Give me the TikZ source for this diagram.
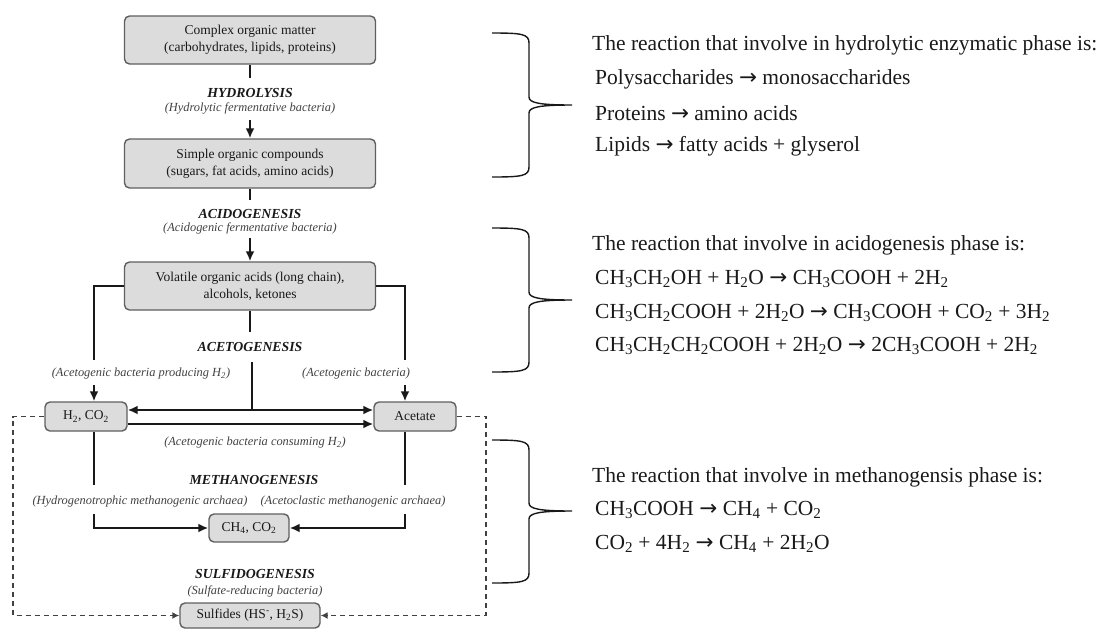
\documentclass[tikz,border=0pt]{standalone}
\usepackage{fontspec}
\setmainfont{Liberation Serif}
\newfontfamily\arrowfont{DejaVu Sans}
\usetikzlibrary{arrows.meta,positioning}

\definecolor{boxfill}{RGB}{220,220,220}
\definecolor{boxline}{RGB}{95,95,95}
\definecolor{ink}{RGB}{25,25,25}
\definecolor{labelgray}{RGB}{65,65,65}
\definecolor{dashgray}{RGB}{65,65,65}

\newcommand{\ra}{{\arrowfont\char"2192}}
\newcommand{\chsub}[1]{\textsubscript{#1}}

\begin{document}
\begin{tikzpicture}[x=1pt,y=-1pt,>={Latex[length=10pt,width=9pt]}]
    % Styles
    \tikzstyle{stage}=[draw=boxline,fill=boxfill,rounded corners=5pt,line width=1.4pt,text=ink,
                       font=\fontsize{13.5}{17}\selectfont,align=center,inner sep=2pt]
    \tikzstyle{phase}=[text=ink,font=\fontsize{13.8}{16}\selectfont\bfseries\itshape,inner sep=1pt]
    \tikzstyle{microbe}=[text=labelgray,font=\fontsize{12.4}{15}\selectfont\itshape,inner sep=1pt]
    \tikzstyle{flow}=[draw=ink,line width=2.9pt]
    \tikzstyle{sulfo}=[draw=dashgray,line width=1.8pt,dash pattern=on 5pt off 4pt,
                       >={Latex[length=7pt,width=7pt]}]
    \tikzstyle{reaction}=[anchor=west,text=ink,font=\fontsize{21.5}{25}\selectfont,inner sep=0pt]
    \tikzstyle{brace}=[draw=ink,line width=1.4pt]

    \useasboundingbox (0,0) rectangle (1102,630);

    % Substrates and products
    \node[stage,minimum width=251pt,minimum height=48pt] (matter)   at (250,40)
        {Complex organic matter\\(carbohydrates, lipids, proteins)};
    \node[stage,minimum width=251pt,minimum height=49pt] (simple)   at (250,163.5)
        {Simple organic compounds\\(sugars, fat acids, amino acids)};
    \node[stage,minimum width=251pt,minimum height=48pt] (volatile) at (250,286)
        {Volatile organic acids (long chain),\\alcohols, ketones};
    \node[stage,minimum width=82pt,minimum height=29pt]  (hco)      at (86,416.5)
        {H\chsub{2}, CO\chsub{2}};
    \node[stage,minimum width=82pt,minimum height=29pt]  (acet)     at (415,416.5)
        {Acetate};
    \node[stage,minimum width=80pt,minimum height=28pt]  (ch4)      at (249,528)
        {CH\chsub{4}, CO\chsub{2}};
    \node[stage,minimum width=140pt,minimum height=25pt] (sulf)     at (250,615.5)
        {Sulfides (HS\textsuperscript{-}, H\chsub{2}S)};

    % Phases and microorganisms
    \node[phase]   (hydro)    at (250,93)  {HYDROLYSIS};
    \node[microbe] (hydrobac) at (250,108) {(Hydrolytic fermentative bacteria)};
    \node[phase]   (acido)    at (250,214) {ACIDOGENESIS};
    \node[microbe] (acidobac) at (250,228) {(Acidogenic fermentative bacteria)};
    \node[phase]   (aceto)    at (250,347) {ACETOGENESIS};
    \node[microbe] (prodbac)  at (141,374) {(Acetogenic bacteria producing H\chsub{2})};
    \node[microbe] (acetbac)  at (356,374) {(Acetogenic bacteria)};
    \node[microbe] (consbac)  at (255,443) {(Acetogenic bacteria consuming H\chsub{2})};
    \node[phase]   (metha)    at (254,480) {METHANOGENESIS};
    \node[microbe] (hydarch)  at (140,502) {(Hydrogenotrophic methanogenic archaea)};
    \node[microbe] (acearch)  at (353,502) {(Acetoclastic methanogenic archaea)};
    \node[phase]   (sulfido)  at (255,574) {SULFIDOGENESIS};
    \node[microbe] (sulfbac)  at (255,591) {(Sulfate-reducing bacteria)};

    % Free ends of the connectors
    \coordinate (hydtop)  at (250,78);
    \coordinate (hydbot)  at (250,120);
    \coordinate (acdtop)  at (250,200);
    \coordinate (acdbot)  at (250,238);
    \coordinate (acttop)  at (250,332);
    \coordinate (actbot)  at (252,362);
    \coordinate (split)   at (252,410);
    \coordinate (consume) at (250,424);
    \coordinate (ldrop)   at (94,360);
    \coordinate (rdrop)   at (405,360);
    \coordinate (larr)    at (94,385);
    \coordinate (rarr)    at (405,385);
    \coordinate (lmtop)   at (94,485);
    \coordinate (rmtop)   at (405,485);
    \coordinate (lmbot)   at (94,514);
    \coordinate (rmbot)   at (405,514);
    \coordinate (ldash)   at (13,500);
    \coordinate (rdash)   at (486,500);

    % Edges
    \draw[flow] (matter) -- (hydtop);
    \draw[flow,->] (hydbot) -- (simple);
    \draw[flow] (simple) -- (acdtop);
    \draw[flow,->] (acdbot) -- (volatile);
    \draw[flow] (volatile) -- (acttop);
    \draw[flow] (volatile.west) -| (ldrop);
    \draw[flow] (volatile.east) -| (rdrop);
    \draw[flow,->] (larr) -- (larr |- hco.north);
    \draw[flow,->] (rarr) -- (rarr |- acet.north);
    \draw[flow] (actbot) -- (split);
    \draw[flow,->] (split) -- (split -| hco.east);
    \draw[flow,->] (split) -- (split -| acet.west);
    \draw[flow,->] (consume -| hco.east) -- (consume -| acet.west);
    \draw[flow] (hco.south -| larr) -- (lmtop);
    \draw[flow] (acet.south -| rarr) -- (rmtop);
    \draw[flow,->] (lmbot) |- (ch4);
    \draw[flow,->] (rmbot) |- (ch4);
    \draw[sulfo,->] (hco.west) -| (ldash) |- (sulf.west);
    \draw[sulfo,->] (acet.east) -| (rdash) |- (sulf.east);

    % Braces
    \foreach \ya/\ym/\yb in {33/105/177, 228/300/372, 440/511/583}
        \draw[brace] (492,\ya) .. controls (522,\ya) and (529,\ya+1) .. (529,\ya+10)
            -- (529,\ym-8) .. controls (529,\ym-2) and (540,\ym) .. (572,\ym)
            .. controls (540,\ym) and (529,\ym+2) .. (529,\ym+8)
            -- (529,\yb-10) .. controls (529,\yb-1) and (522,\yb) .. (492,\yb);

    % Reactions
    \node[reaction] (hydtitle) at (592,45)  {The reaction that involve in hydrolytic enzymatic phase is:};
    \node[reaction] (hydr1)    at (595,79)  {Polysaccharides \ra{} monosaccharides};
    \node[reaction] (hydr2)    at (595,113) {Proteins \ra{} amino acids};
    \node[reaction] (hydr3)    at (595,146) {Lipids \ra{} fatty acids + glyserol};

    \node[reaction] (acdtitle) at (592,245) {The reaction that involve in acidogenesis phase is:};
    \node[reaction] (acdr1)    at (595,279)
        {CH\chsub{3}CH\chsub{2}OH + H\chsub{2}O \ra{} CH\chsub{3}COOH + 2H\chsub{2}};
    \node[reaction] (acdr2)    at (595,313)
        {CH\chsub{3}CH\chsub{2}COOH + 2H\chsub{2}O \ra{} CH\chsub{3}COOH + CO\chsub{2} + 3H\chsub{2}};
    \node[reaction] (acdr3)    at (595,346)
        {CH\chsub{3}CH\chsub{2}CH\chsub{2}COOH + 2H\chsub{2}O \ra{} 2CH\chsub{3}COOH + 2H\chsub{2}};

    \node[reaction] (mettitle) at (592,477) {The reaction that involve in methanogensis phase is:};
    \node[reaction] (metr1)    at (595,510) {CH\chsub{3}COOH \ra{} CH\chsub{4} + CO\chsub{2}};
    \node[reaction] (metr2)    at (595,544) {CO\chsub{2} + 4H\chsub{2} \ra{} CH\chsub{4} + 2H\chsub{2}O};

\end{tikzpicture}
\end{document}
